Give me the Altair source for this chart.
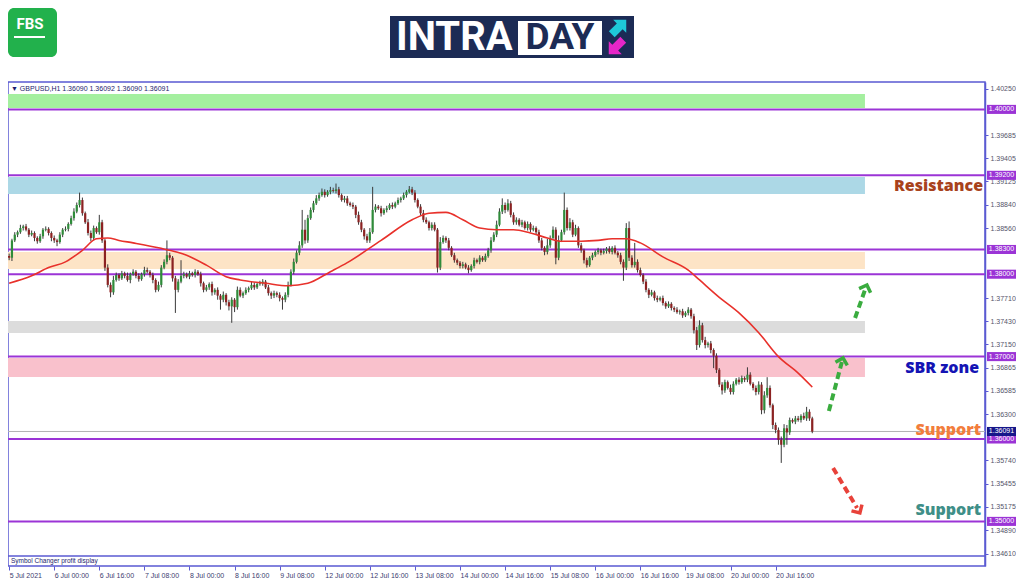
import altair as alt
import pandas as pd

# ---------------- data ----------------
PIP = 0.0001
FIRST_OPEN_PIPS = 13822
CLOSE_PIPS = [
    13820, 13841, 13848, 13851, 13856, 13858, 13854, 13848, 13850, 13844,
    13840, 13846, 13854, 13855, 13850, 13844, 13841, 13839, 13848, 13854,
    13855, 13861, 13868, 13876, 13884, 13890, 13874, 13863, 13850, 13844,
    13856, 13851, 13863, 13841, 13808, 13787, 13778, 13793, 13799, 13795,
    13801, 13798, 13793, 13800, 13803, 13798, 13794, 13800, 13805, 13803,
    13799, 13793, 13781, 13787, 13808, 13815, 13823, 13820, 13795, 13781,
    13791, 13798, 13800, 13797, 13801, 13799, 13803, 13800, 13789, 13781,
    13784, 13788, 13778, 13781, 13774, 13769, 13775, 13766, 13761, 13769,
    13760, 13781, 13774, 13777, 13781, 13783, 13787, 13784, 13788, 13789,
    13791, 13784, 13777, 13774, 13777, 13775, 13771, 13769, 13775, 13787,
    13803, 13815, 13826, 13835, 13854, 13841, 13868, 13878, 13886, 13892,
    13896, 13900, 13896, 13900, 13902, 13901, 13903, 13896, 13890, 13892,
    13886, 13884, 13882, 13872, 13863, 13854, 13846, 13841, 13851, 13878,
    13882, 13880, 13874, 13878, 13880, 13884, 13882, 13886, 13890, 13892,
    13896, 13900, 13903, 13899, 13890, 13882, 13874, 13866, 13863, 13856,
    13860, 13854, 13808, 13839, 13844, 13841, 13832, 13823, 13817, 13814,
    13810, 13812, 13808, 13805, 13810, 13817, 13815, 13820, 13817, 13822,
    13829, 13841, 13848, 13860, 13876, 13884, 13878, 13886, 13872, 13863,
    13866, 13860, 13863, 13856, 13861, 13854, 13856, 13851, 13841, 13832,
    13827, 13835, 13844, 13854, 13820, 13841, 13851, 13878, 13856, 13863,
    13848, 13856, 13835, 13829, 13817, 13811, 13820, 13823, 13827, 13829,
    13826, 13828, 13831, 13827, 13832, 13826, 13823, 13815, 13808, 13856,
    13820, 13811, 13815, 13805, 13799, 13791, 13781, 13775, 13778, 13771,
    13769, 13771, 13765, 13761, 13764, 13759, 13757, 13754, 13755, 13750,
    13753, 13757, 13749, 13732, 13714, 13738, 13720, 13714, 13716, 13708,
    13701, 13684, 13666, 13659, 13669, 13662, 13657, 13667, 13672, 13669,
    13674, 13672, 13678, 13667, 13662, 13657, 13666, 13635, 13653, 13662,
    13641, 13617, 13611, 13599, 13593, 13613, 13608, 13623, 13621, 13625,
    13623, 13628, 13625, 13633, 13625, 13609,
]
UPPER_WICK_PIPS = [
    3, 2, 3, 2, 4, 2, 3, 2, 3, 2,
    2, 3, 2, 3, 2, 2, 3, 2, 3, 2,
    3, 2, 3, 4, 3, 9, 3, 2, 4, 3,
    3, 2, 9, 3, 2, 4, 3, 5, 3, 2,
    3, 2, 4, 2, 3, 2, 3, 2, 4, 3,
    2, 3, 2, 4, 3, 3, 18, 3, 2, 3,
    3, 19, 3, 2, 3, 2, 3, 2, 3, 2,
    3, 2, 3, 2, 3, 2, 4, 2, 3, 3,
    2, 4, 3, 2, 3, 2, 4, 3, 2, 3,
    3, 2, 3, 2, 3, 2, 3, 2, 3, 4,
    3, 4, 3, 5, 24, 12, 4, 3, 3, 4,
    3, 4, 3, 2, 4, 3, 7, 3, 2, 3,
    3, 2, 3, 2, 4, 3, 2, 3, 5, 28,
    3, 2, 3, 2, 3, 2, 3, 2, 3, 2,
    3, 2, 4, 3, 3, 2, 3, 4, 3, 2,
    3, 3, 2, 6, 3, 2, 3, 2, 3, 2,
    2, 3, 2, 3, 2, 3, 2, 3, 2, 3,
    3, 4, 3, 5, 4, 8, 3, 5, 3, 3,
    3, 2, 3, 2, 3, 2, 3, 2, 3, 3,
    2, 8, 3, 4, 3, 6, 3, 21, 3, 5,
    3, 4, 2, 3, 2, 3, 2, 3, 2, 3,
    2, 3, 2, 3, 2, 3, 2, 3, 3, 6,
    8, 3, 23, 3, 3, 2, 3, 2, 3, 2,
    3, 2, 3, 2, 3, 2, 2, 3, 2, 3,
    2, 3, 2, 3, 4, 6, 3, 4, 2, 3,
    2, 3, 2, 3, 3, 2, 4, 3, 2, 3,
    3, 2, 9, 3, 2, 3, 4, 3, 5, 13,
    3, 2, 3, 3, 4, 5, 4, 3, 2, 3,
    3, 2, 4, 6, 3, 2,
]
LOWER_WICK_PIPS = [
    3, 4, 2, 3, 2, 3, 2, 3, 2, 4,
    3, 2, 3, 2, 3, 4, 3, 5, 2, 3,
    2, 3, 2, 3, 2, 3, 3, 2, 3, 4,
    3, 2, 3, 3, 4, 3, 6, 3, 2, 3,
    2, 3, 2, 4, 2, 3, 3, 2, 3, 2,
    3, 4, 3, 2, 3, 2, 3, 3, 4, 28,
    3, 2, 3, 2, 3, 2, 3, 2, 4, 3,
    2, 3, 4, 3, 5, 12, 3, 4, 5, 20,
    6, 3, 2, 3, 2, 3, 2, 3, 2, 2,
    3, 2, 3, 4, 3, 3, 4, 12, 3, 3,
    2, 3, 2, 3, 3, 4, 3, 2, 3, 2,
    3, 2, 3, 2, 3, 2, 3, 3, 2, 3,
    3, 2, 3, 4, 3, 3, 4, 3, 3, 2,
    3, 2, 4, 2, 3, 2, 3, 2, 2, 3,
    2, 3, 2, 3, 3, 2, 3, 3, 2, 3,
    3, 2, 6, 3, 2, 3, 3, 2, 3, 3,
    3, 3, 2, 4, 2, 3, 2, 3, 2, 2,
    2, 3, 2, 3, 2, 3, 4, 2, 3, 3,
    3, 2, 3, 2, 3, 3, 2, 3, 3, 3,
    4, 3, 3, 2, 8, 3, 2, 3, 3, 3,
    3, 2, 3, 3, 4, 3, 2, 3, 2, 3,
    3, 2, 3, 2, 3, 2, 3, 3, 16, 3,
    4, 3, 3, 3, 2, 3, 3, 4, 2, 3,
    3, 2, 3, 3, 2, 3, 3, 2, 3, 3,
    2, 3, 3, 4, 6, 3, 3, 4, 3, 4,
    15, 4, 3, 5, 3, 2, 3, 3, 2, 3,
    2, 3, 3, 2, 3, 4, 3, 5, 4, 3,
    3, 5, 4, 6, 22, 3, 15, 3, 2, 3,
    2, 3, 2, 3, 3, 2,
]

# moving average (red line), read at these bar indices
MA_IDX = [0, 8, 14, 20, 26, 31, 35, 39, 44, 53, 63, 70, 77, 82, 91, 99, 106,
          114, 120, 132, 143, 149, 155, 161, 167, 173, 179, 185, 191, 196, 203,
          209, 214, 219, 224, 232, 241, 245, 252, 259, 266, 273, 280, 285]
MA_PIPS = [13789, 13798, 13808, 13815, 13829, 13843, 13844, 13841, 13838, 13832,
           13823, 13811, 13797, 13793, 13789, 13786, 13789, 13803, 13814, 13841,
           13866, 13874, 13875, 13866, 13856, 13854, 13854, 13850, 13844, 13840,
           13840, 13841, 13843, 13843, 13838, 13821, 13805, 13793, 13772, 13753,
           13729, 13700, 13680, 13663]

X_TICK_IDX = list(range(0, 273, 16))
X_TICK_LABELS = ['5 Jul 2021', '6 Jul 00:00', '6 Jul 16:00', '7 Jul 08:00',
                 '8 Jul 00:00', '8 Jul 16:00', '9 Jul 08:00', '12 Jul 00:00',
                 '12 Jul 16:00', '13 Jul 08:00', '14 Jul 00:00', '14 Jul 16:00',
                 '15 Jul 08:00', '16 Jul 00:00', '16 Jul 16:00', '19 Jul 08:00',
                 '20 Jul 00:00', '20 Jul 16:00']
# price-scale labels that are not hidden behind the level boxes
Y_TICKS = [1.34610, 1.34890, 1.35175, 1.35455, 1.35740, 1.36300,
           1.36585, 1.36865, 1.37150, 1.37430, 1.37710,
           1.38560, 1.38840, 1.39125, 1.39405, 1.39685, 1.40250]

LEVELS = [1.40000, 1.39200, 1.38300, 1.38000, 1.37000, 1.36000, 1.35000]
LAST_PRICE = 1.36091
HEADER = '\u25bc GBPUSD,H1  1.36090 1.36092 1.36090 1.36091'

ZONE_LOW = [1.40017, 1.38973, 1.38063, 1.37286, 1.36752]
ZONE_HIGH = [1.40187, 1.39180, 1.38269, 1.37432, 1.36983]
ZONE_COLORS = ['#a4ef9f', '#acd8e6', '#fde4c6', '#dcdcdc', '#f9c1cc']

NOTE_TEXT = ['Resistance', 'SBR zone', 'Support', 'Support']
NOTE_PRICE = [1.39070, 1.36862, 1.36109, 1.35138]
NOTE_COLORS = ['#a8421c', '#1414b4', '#f27d3c', '#3f8f88']

# ---------------- layout constants ----------------
W, H = 977, 484
FRAME = '#5a5ad2'
PURPLE = '#9b34d6'
XS = alt.Scale(domain=[-0.4, 346.3], nice=False, zero=False, padding=0)
YS = alt.Scale(domain=[1.344587, 1.403325], nice=False, zero=False, padding=0)
BAND_X0, BAND_X1 = -0.4, 303.7
NOTE_X = [345.6, 344.2, 344.9, 344.9]
BOX_HALF = 0.00055
LABEL_FONT = 'Liberation Sans'

assert len(CLOSE_PIPS) == len(UPPER_WICK_PIPS) == len(LOWER_WICK_PIPS)
assert len(MA_IDX) == len(MA_PIPS)

opens = [FIRST_OPEN_PIPS] + CLOSE_PIPS[:-1]
rows = []
for i, (o, c, uw, lw) in enumerate(zip(opens, CLOSE_PIPS, UPPER_WICK_PIPS, LOWER_WICK_PIPS)):
    rows.append({'i': i, 'open': o * PIP, 'close': c * PIP,
                 'high': (max(o, c) + uw) * PIP, 'low': (min(o, c) - lw) * PIP})
cdf = pd.DataFrame(rows)
madf = pd.DataFrame({'i': MA_IDX, 'ma': [v * PIP for v in MA_PIPS]})
zdf = pd.DataFrame({'x0': BAND_X0, 'x1': BAND_X1, 'lo': ZONE_LOW, 'hi': ZONE_HIGH, 'color': ZONE_COLORS})
ldf = pd.DataFrame({'price': LEVELS})
ndf = pd.DataFrame({'i': NOTE_X, 'price': NOTE_PRICE, 'text': NOTE_TEXT, 'color': NOTE_COLORS})
boxdf = pd.DataFrame({'lo': [p - BOX_HALF for p in LEVELS] + [LAST_PRICE - BOX_HALF],
                      'hi': [p + BOX_HALF for p in LEVELS] + [LAST_PRICE + BOX_HALF],
                      'price': LEVELS + [LAST_PRICE],
                      'label': ['%.5f' % p for p in LEVELS] + ['%.5f' % LAST_PRICE],
                      'color': [PURPLE] * len(LEVELS) + ['#16168a']})
one = pd.DataFrame({'k': [0]})

label_expr = '[' + ','.join("'%s'" % s for s in X_TICK_LABELS) + '][round(datum.value/16)]'
x_axis = alt.Axis(values=X_TICK_IDX, labelExpr=label_expr, orient='bottom', title=None,
                  labelAlign='left', labelFont=LABEL_FONT, labelFontSize=7, labelColor='#3c3c70',
                  tickColor=FRAME, tickSize=4, domain=False, grid=False, labelPadding=1,
                  labelFlush=False, labelOverlap=False, ticks=True, labels=True)
y_axis = alt.Axis(values=Y_TICKS, format='.5f', orient='right', title=None,
                  labelFont=LABEL_FONT, labelFontSize=7, labelColor='#55556a',
                  tickColor=FRAME, tickSize=3, domainColor=FRAME, domainWidth=1.5, grid=False,
                  labelPadding=2, labelFlush=False, labelOverlap=False, ticks=True, labels=True)


def X(f):
    return alt.X(f, scale=XS, axis=x_axis, title=None)


def Y(f):
    return alt.Y(f, scale=YS, axis=y_axis, title=None)


bands = alt.Chart(zdf).mark_rect().encode(
    x=X('x0:Q'), x2='x1:Q', y=Y('lo:Q'), y2='hi:Q', color=alt.Color('color:N', scale=None))
last_line = alt.Chart(pd.DataFrame({'price': [LAST_PRICE]})).mark_rule(
    color='#b4b4b4', strokeWidth=1).encode(y=Y('price:Q'))
levels = alt.Chart(ldf).mark_rule(color=PURPLE, strokeWidth=2).encode(y=Y('price:Q'))
wicks = alt.Chart(cdf).mark_rule(color='#3a3a3a', strokeWidth=1).encode(
    x=X('i:Q'), y=Y('low:Q'), y2='high:Q')
bodies = alt.Chart(cdf).mark_bar(size=2.2).encode(
    x=X('i:Q'), y=Y('open:Q'), y2='close:Q',
    color=alt.condition('datum.close >= datum.open', alt.value('#2f8c3a'), alt.value('#8c2222')))
ma = alt.Chart(madf).mark_line(color='#e8312b', strokeWidth=1.6, interpolate='monotone').encode(
    x=X('i:Q'), y=Y('ma:Q'))

# dashed arrows
arrow_df = pd.DataFrame({
    'a': ['g1', 'g1', 'g2', 'g2', 'r', 'r'],
    'i': [290.9, 295.5, 300.2, 303.7, 292.4, 300.9],
    'p': [1.36340, 1.36934, 1.37468, 1.37808, 1.35648, 1.35163],
    'c': ['#3aac3f', '#3aac3f', '#3aac3f', '#3aac3f', '#e8423a', '#e8423a']})
head_df = pd.DataFrame({'i': [295.9, 304.4, 301.9], 'p': [1.36983, 1.37869, 1.35102],
                        'ang': [15, 20, 149], 'c': ['#3aac3f', '#3aac3f', '#e8423a']})
shafts = alt.Chart(arrow_df).mark_line(strokeWidth=4, strokeDash=[7, 4]).encode(
    x=X('i:Q'), y=Y('p:Q'), detail='a:N', color=alt.Color('c:N', scale=None))
heads = alt.Chart(head_df).mark_point(shape='M -1 1 L 0 0 L 1 1', filled=False, strokeWidth=3.5,
                                      size=150, opacity=1).encode(
    x=X('i:Q'), y=Y('p:Q'), angle=alt.Angle('ang:Q', scale=None), color=alt.Color('c:N', scale=None))

notes = alt.Chart(ndf).mark_text(align='right', baseline='middle', font='Open Sans',
                                 fontWeight=800, fontSize=16).encode(
    x=X('i:Q'), y=Y('price:Q'), text='text:N', color=alt.Color('color:N', scale=None))

boxes = alt.Chart(boxdf).mark_rect().encode(
    x=alt.value(979), x2=alt.value(1008), y=Y('lo:Q'), y2='hi:Q', color=alt.Color('color:N', scale=None))
box_text = alt.Chart(boxdf).mark_text(color='white', fontSize=7, font=LABEL_FONT,
                                      baseline='middle', align='center').encode(
    x=alt.value(993.5), y=Y('price:Q'), text='label:N')

header = alt.Chart(one).mark_text(align='left', baseline='middle', fontSize=7, font=LABEL_FONT,
                                  color='#1c1c6c').encode(x=alt.value(3), y=alt.value(7), text=alt.value(HEADER))
sub_sep = alt.Chart(one).mark_rule(color=FRAME, strokeWidth=1.5).encode(
    x=alt.value(0), x2=alt.value(W), y=alt.value(474))
sub_text = alt.Chart(one).mark_text(align='left', baseline='middle', fontSize=6.5, font=LABEL_FONT,
                                    color='#1c1c6c').encode(x=alt.value(3), y=alt.value(479),
                                                            text=alt.value('Symbol Changer profit display'))

# logos
fbs_box = alt.Chart(one).mark_rect(color='#22b14c', cornerRadius=6).encode(
    x=alt.value(0), x2=alt.value(49), y=alt.value(-74), y2=alt.value(-25))
fbs_text = alt.Chart(one).mark_text(color='white', fontSize=15, fontWeight='bold', font='Roboto',
                                    align='center', baseline='middle').encode(
    x=alt.value(22), y=alt.value(-58), text=alt.value('FBS'))
fbs_line = alt.Chart(one).mark_rule(color='white', strokeWidth=2).encode(
    x=alt.value(6), x2=alt.value(37), y=alt.value(-45))
intra_box = alt.Chart(one).mark_rect(color='#1c2b55').encode(
    x=alt.value(382), x2=alt.value(626), y=alt.value(-66), y2=alt.value(-24))
intra_text = alt.Chart(one).mark_text(color='white', fontSize=40, fontWeight='bold', font='Roboto',
                                      align='left', baseline='middle').encode(
    x=alt.value(388), y=alt.value(-44), text=alt.value('INTRA'))
day_box = alt.Chart(one).mark_rect(color='white').encode(
    x=alt.value(510), x2=alt.value(594), y=alt.value(-61), y2=alt.value(-27))
day_text = alt.Chart(one).mark_text(color='#1c2b55', fontSize=37, fontWeight='bold', font='Roboto',
                                    align='center', baseline='middle').encode(
    x=alt.value(552), y=alt.value(-44), text=alt.value('DAY'))
ARROW_PATH = 'M -0.4 1 L -0.4 -0.1 L -0.9 -0.1 L 0 -1 L 0.9 -0.1 L 0.4 -0.1 L 0.4 1 Z'
icon_up = alt.Chart(one).mark_point(shape=ARROW_PATH, filled=True, size=420, color='#1ec8d8',
                                    opacity=1, angle=45).encode(x=alt.value(611), y=alt.value(-55))
icon_dn = alt.Chart(one).mark_point(shape=ARROW_PATH, filled=True, size=420, color='#e626c8',
                                    opacity=1, angle=225).encode(x=alt.value(608), y=alt.value(-35))

chart = alt.layer(
    bands, last_line, levels, wicks, bodies, ma, shafts, heads, notes, boxes, box_text,
    header, sub_sep, sub_text, fbs_box, fbs_text, fbs_line, intra_box, intra_text,
    day_box, day_text, icon_up, icon_dn
).properties(
    width=W, height=H,
    padding={'left': 0, 'top': 74, 'right': 31, 'bottom': 12},
    autosize=alt.AutoSizeParams(type='none'),
    background='white'
).configure_view(stroke=FRAME, strokeWidth=1.5)

chart.save('out.html', embed_options={'renderer': 'svg', 'actions': False})
